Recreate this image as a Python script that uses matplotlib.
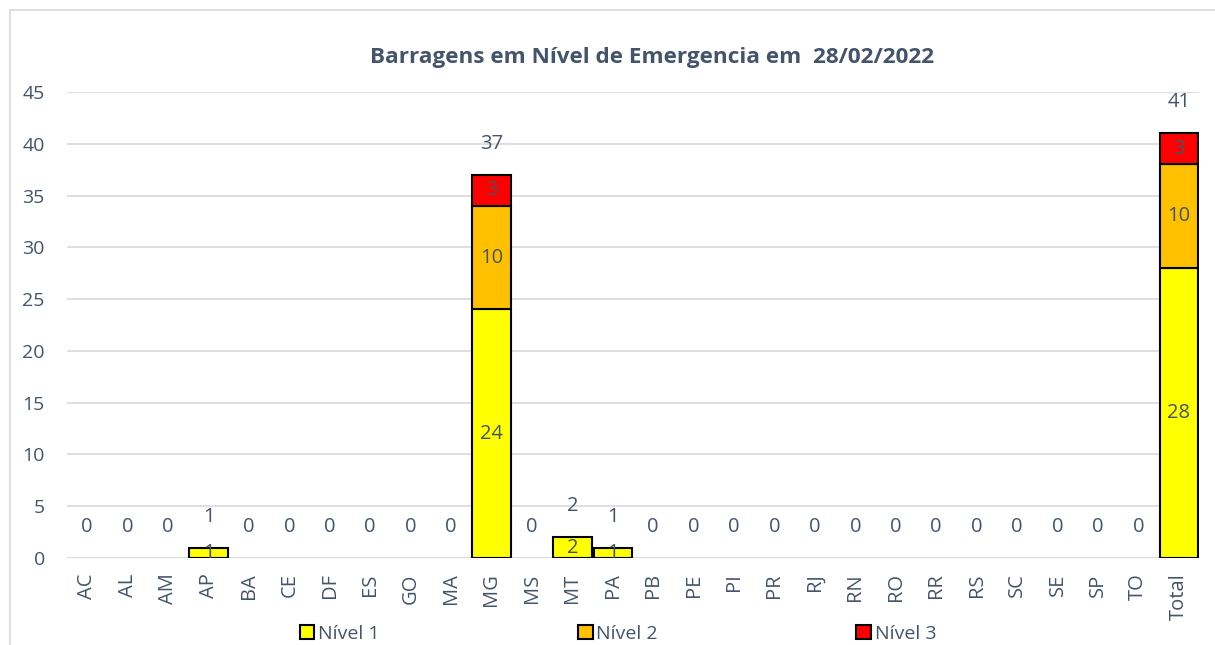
import matplotlib
matplotlib.use("Agg")
import matplotlib.pyplot as plt
from matplotlib.patches import Rectangle, Patch
import numpy as np

categories = ["AC", "AL", "AM", "AP", "BA", "CE", "DF", "ES", "GO", "MA", "MG", "MS", "MT",
              "PA", "PB", "PE", "PI", "PR", "RJ", "RN", "RO", "RR", "RS", "SC", "SE", "SP",
              "TO", "Total"]
nivel1 = [0, 0, 0, 1, 0, 0, 0, 0, 0, 0, 24, 0, 2, 1, 0, 0, 0, 0, 0, 0, 0, 0, 0, 0, 0, 0, 0, 28]
nivel2 = [0, 0, 0, 0, 0, 0, 0, 0, 0, 0, 10, 0, 0, 0, 0, 0, 0, 0, 0, 0, 0, 0, 0, 0, 0, 0, 0, 10]
nivel3 = [0, 0, 0, 0, 0, 0, 0, 0, 0, 0, 3, 0, 0, 0, 0, 0, 0, 0, 0, 0, 0, 0, 0, 0, 0, 0, 0, 3]
series_names = ["Nível 1", "Nível 2", "Nível 3"]
colors = ["#FFFF00", "#FFC000", "#FF0000"]
title = "Barragens em Nível de Emergencia em  28/02/2022"

plt.rcParams['font.family'] = ['Open Sans', 'DejaVu Sans']
label_color = "#44546A"
tick_color = "#44546A"

fig = plt.figure(figsize=(12.15, 6.45), dpi=100)
W, H = 1215, 645
ax = fig.add_axes([67 / W, 1 - 558 / H, (1199 - 67) / W, (558 - 92) / H])

x = np.arange(len(categories))
data = [np.array(nivel1), np.array(nivel2), np.array(nivel3)]
bottom = np.zeros(len(categories))
for vals, c, name in zip(data, colors, series_names):
    mask = vals > 0
    ax.bar(x[mask], vals[mask], bottom=bottom[mask], width=0.95, color=c,
           edgecolor="black", linewidth=1.5, zorder=3, label=name)
    for xi, v, b in zip(x[mask], vals[mask], bottom[mask]):
        ax.text(xi, b + v / 2, str(v), ha="center", va="center", fontsize=14.5,
                color=label_color, zorder=4)
    bottom = bottom + vals

totals = bottom
for xi, t in zip(x, totals):
    ax.text(xi, t + 3, str(int(t)), ha="center", va="center", fontsize=14.5,
            color=label_color, zorder=4)

ax.set_xlim(-0.5, len(categories) - 0.5)
ax.set_ylim(0, 45)
ax.set_yticks(range(0, 46, 5))
ax.set_xticks(x)
ax.set_xticklabels(categories, rotation=90, fontsize=14.5, color=tick_color)
ax.tick_params(axis="y", labelsize=14, labelcolor=tick_color, length=0, pad=16)
ax.tick_params(axis="x", length=0, pad=11)
ax.grid(axis="y", color="#D9D9D9", linewidth=1.2, zorder=0)
ax.set_axisbelow(True)
for s in ax.spines.values():
    s.set_visible(False)
ax.axhline(0, color="#D9D9D9", linewidth=1.2, zorder=1)

fig.text(652 / W, 1 - 57 / H, title, ha="center", va="center",
         fontsize=16.2, fontweight="bold", color=label_color)

handles = [Patch(facecolor=c, edgecolor="black", linewidth=1.5) for c in colors]
fig.legend(handles, series_names, loc="center", bbox_to_anchor=(618 / W, 1 - 634 / H),
           ncol=3, frameon=False, fontsize=14, handlelength=0.75, handleheight=0.75,
           handletextpad=0.2, columnspacing=10.2, labelcolor=tick_color)

border = Rectangle((10 / W, -0.05), 1.2, 1 - 10 / H + 0.05, transform=fig.transFigure,
                   fill=False, edgecolor="#D9D9D9", linewidth=1.2)
fig.patches.append(border)

fig.savefig("out.png", dpi=100)
